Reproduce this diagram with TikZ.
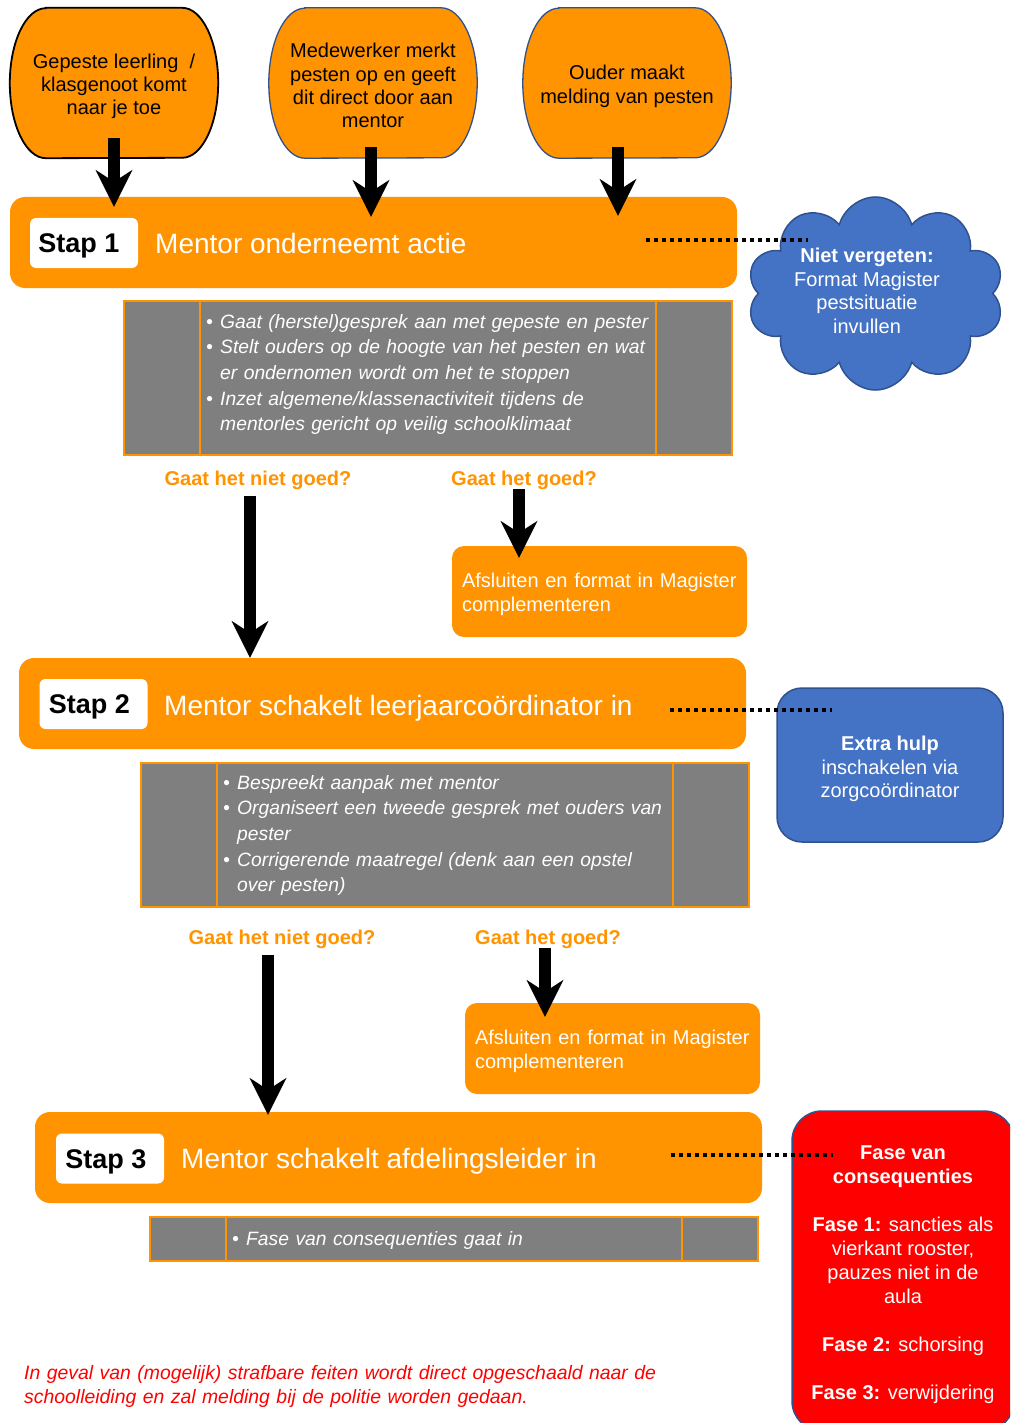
\documentclass[tikz,border=0pt]{standalone}
\usepackage{fontspec}
\setmainfont{Liberation Sans}
\usetikzlibrary{arrows.meta,shapes.symbols,backgrounds,calc}
\definecolor{orF}{RGB}{255,147,0}
\definecolor{blF}{RGB}{68,114,196}
\definecolor{blD}{RGB}{47,82,143}
\definecolor{grF}{RGB}{127,127,127}
\definecolor{rdF}{RGB}{255,0,0}
\tikzset{
  topbox/.style={minimum width=208pt, minimum height=150pt, align=center, inner sep=0pt,
    font=\fontsize{20}{23.3}\selectfont},
  stapbox/.style={rectangle, rounded corners=15pt, fill=orF, minimum width=727pt, minimum height=91pt, inner sep=0pt},
  stapnum/.style={rectangle, rounded corners=6pt, fill=white, minimum width=108pt, minimum height=50pt,
    inner sep=0pt, text height=19.5pt, text depth=0pt, font=\fontsize{27}{30}\selectfont\bfseries},
  staptitle/.style={anchor=base west, text=white, inner sep=0pt, font=\fontsize{28}{32}\selectfont},
  greycell/.style={rectangle, fill=grF, draw=orF, line width=2pt, inner sep=0pt},
  greytext/.style={anchor=base west, text=white, align=left, inner sep=0pt, text width=460pt,
    font=\fontsize{19.3}{25.7}\selectfont\itshape},
  qlabel/.style={text=orF, inner sep=0pt, font=\fontsize{20}{24}\selectfont\bfseries},
  afbox/.style={rectangle, rounded corners=12pt, fill=orF, minimum width=295pt, minimum height=91pt,
    text width=275pt, align=left, text=white, inner xsep=10pt, inner ysep=0pt, font=\fontsize{20}{24}\selectfont},
  bigarrow/.style={line width=12.5pt, black, -{Stealth[length=37pt,width=37pt,inset=12pt,line width=0pt]}},
  dotline/.style={line width=4pt, dash pattern=on 4pt off 4pt, black},
  bluebox/.style={rectangle, rounded corners=25pt, fill=blF, draw=blD, line width=1.5pt, align=center,
    text=white, inner sep=0pt, font=\fontsize{20}{23.5}\selectfont},
}
\newcommand{\bul}{\makebox[14pt][l]{\textbullet}}
\newcommand{\ind}{\hspace*{14pt}}
\newcommand{\upstrut}[1]{\rule{0pt}{#1}}
\begin{document}
\begin{tikzpicture}[x=1pt,y=-1pt]
\useasboundingbox (0,0) rectangle (1010,1423);
\clip (0,0) rectangle (1010,1423);

% ---------- top shapes ----------
\node[topbox] (t1) at (114,83) {\upstrut{21pt}Gepeste leerling\ \ /\\klasgenoot komt\\naar je toe};
\node[topbox] (t2) at (373,83) {\upstrut{20pt}Medewerker merkt\\pesten op en geeft\\dit direct door aan\\mentor};
\node[topbox] (t3) at (627,83) {\upstrut{21pt}Ouder maakt\\melding van pesten};
\begin{scope}[on background layer]
  \draw[fill=orF, draw=black, line width=1.8pt]
    ([xshift=36pt]t1.north west) -- ([xshift=-36pt]t1.north east)
    arc[start angle=90, end angle=-90, x radius=36pt, y radius=75pt]
    -- ([xshift=36pt]t1.south west)
    arc[start angle=270, end angle=90, x radius=36pt, y radius=75pt] -- cycle;
  \draw[fill=orF, draw=blD, line width=1.3pt]
    ([xshift=36pt]t2.north west) -- ([xshift=-36pt]t2.north east)
    arc[start angle=90, end angle=-90, x radius=36pt, y radius=75pt]
    -- ([xshift=36pt]t2.south west)
    arc[start angle=270, end angle=90, x radius=36pt, y radius=75pt] -- cycle;
  \draw[fill=orF, draw=blD, line width=1.3pt]
    ([xshift=36pt]t3.north west) -- ([xshift=-36pt]t3.north east)
    arc[start angle=90, end angle=-90, x radius=36pt, y radius=75pt]
    -- ([xshift=36pt]t3.south west)
    arc[start angle=270, end angle=90, x radius=36pt, y radius=75pt] -- cycle;
\end{scope}

% ---------- step 1 ----------
\node[stapbox] (s1) at (373.5,242.5) {};
\node[stapnum] (s1n) at (84,243) {Stap 1\hspace*{10pt}};
\node[staptitle] (s1t) at (155,254) {Mentor onderneemt actie};

\node[cloud, cloud puffs=10, aspect=1.33, fill=blF, draw=blD, line width=1.5pt,
      minimum width=257pt, minimum height=193pt, inner sep=0pt] (cl) at (875.5,293.5) {};
\node[align=center, text=white, inner sep=0pt, font=\fontsize{20}{23.6}\selectfont] (clt) at (867,291)
  {\textbf{Niet vergeten:}\\Format Magister\\pestsituatie\\invullen};

\node[greycell, minimum width=76pt, minimum height=154pt] (g1a) at (162,378) {};
\node[greycell, minimum width=456pt, minimum height=154pt] (g1b) at (428,378) {};
\node[greycell, minimum width=76pt, minimum height=154pt] (g1c) at (694,378) {};
\node[greytext] (g1t) at (206,328)
  {\bul Gaat (herstel)gesprek aan met gepeste en pester\\
   \bul Stelt ouders op de hoogte van het pesten en wat\\
   \ind er ondernomen wordt om het te stoppen\\
   \bul Inzet algemene/klassenactiviteit tijdens de\\
   \ind mentorles gericht op veilig schoolklimaat};

\node[qlabel] (l1n) at (258,480) {Gaat het niet goed?};
\node[qlabel] (l1g) at (524,480) {Gaat het goed?};
\node[afbox] (af1) at (599.5,591.5) {\upstrut{20.6pt}Afsluiten en format in Magister\\complementeren};

% ---------- step 2 ----------
\node[stapbox] (s2) at (382.5,703.5) {};
\node[stapnum] (s2n) at (93.5,704) {Stap 2\hspace*{8pt}};
\node[staptitle] (s2t) at (164,715) {Mentor schakelt leerjaarcoördinator in};

\node[bluebox, minimum width=226pt, minimum height=154pt] (eh) at (890,765)
  {\upstrut{22.6pt}\textbf{Extra hulp}\\inschakelen via\\zorgcoördinator};

\node[greycell, minimum width=76pt, minimum height=144pt] (g2a) at (179,835) {};
\node[greycell, minimum width=456pt, minimum height=144pt] (g2b) at (445,835) {};
\node[greycell, minimum width=76pt, minimum height=144pt] (g2c) at (711,835) {};
\node[greytext] (g2t) at (223,789)
  {\bul Bespreekt aanpak met mentor\\
   \bul Organiseert een tweede gesprek met ouders van\\
   \ind pester\\
   \bul Corrigerende maatregel (denk aan een opstel\\
   \ind over pesten)};

\node[qlabel] (l2n) at (282,939) {Gaat het niet goed?};
\node[qlabel] (l2g) at (548,939) {Gaat het goed?};
\node[afbox] (af2) at (612.5,1048.5) {\upstrut{20.6pt}Afsluiten en format in Magister\\complementeren};

% ---------- step 3 ----------
\node[stapbox] (s3) at (398.5,1157.5) {};
\node[stapnum] (s3n) at (110,1158.5) {Stap 3\hspace*{8pt}};
\node[staptitle] (s3t) at (181,1168) {Mentor schakelt afdelingsleider in};

\node[bluebox, fill=rdF, rounded corners=30pt, minimum width=222pt, minimum height=320pt,
      font=\fontsize{20}{24}\selectfont] (rb) at (903,1271)
  {\upstrut{20.6pt}\textbf{Fase van}\\\textbf{consequenties}\\[24pt]
   \textbf{Fase 1:} sancties als\\vierkant rooster,\\pauzes niet in de\\aula\\[24pt]
   \textbf{Fase 2:} schorsing\\[24pt]
   \textbf{Fase 3:} verwijdering};

\node[greycell, minimum width=76pt, minimum height=44pt] (g3a) at (188,1239) {};
\node[greycell, minimum width=456pt, minimum height=44pt] (g3b) at (454,1239) {};
\node[greycell, minimum width=76pt, minimum height=44pt] (g3c) at (720,1239) {};
\node[greytext] (g3t) at (232,1245) {\bul Fase van consequenties gaat in};

\node[anchor=base west, text=rdF, align=left, inner sep=0pt, text width=700pt,
      font=\fontsize{19.4}{24}\selectfont\itshape] (note) at (24,1379)
  {In geval van (mogelijk) strafbare feiten wordt direct opgeschaald naar de\\
   schoolleiding en zal melding bij de politie worden gedaan.};

% ---------- connectors ----------
\draw[bigarrow] ($(t1.south)+(0,-20)$) -- ($(t1.south |- s1.north)+(0,10)$);
\draw[bigarrow] ($(t2.south)+(-2,-11)$) -- ($(t2.south |- s1.north)+(-2,20)$);
\draw[bigarrow] ($(t3.south)+(-9,-11)$) -- ($(t3.south |- s1.north)+(-9,19)$);
\draw[bigarrow] ($(l1n.center)+(-8,16)$) -- ($(l1n.center |- s2.north)+(-8,0)$);
\draw[bigarrow] ($(l1g.center)+(-5,9)$) -- ($(l1g.center |- af1.north)+(-5,12)$);
\draw[bigarrow] ($(l2n.center)+(-14,16)$) -- ($(l2n.center |- s3.north)+(-14,3)$);
\draw[bigarrow] ($(l2g.center)+(-3,9)$) -- ($(l2g.center |- af2.north)+(-3,14)$);

\coordinate (d1a) at (646,240);
\coordinate (d1b) at (808,240);
\coordinate (d2a) at (670,710);
\coordinate (d2b) at (832,710);
\coordinate (d3a) at (671,1155);
\coordinate (d3b) at (833,1155);
\draw[dotline] (d1a) -- (d1b);
\draw[dotline] (d2a) -- (d2b);
\draw[dotline] (d3a) -- (d3b);
\end{tikzpicture}
\end{document}
